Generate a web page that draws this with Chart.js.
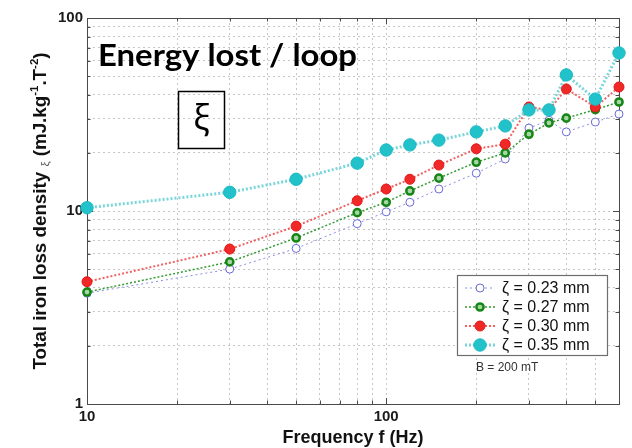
<!DOCTYPE html>
<html>
<head>
<meta charset="utf-8">
<script src="https://cdn.jsdelivr.net/npm/chart.js@4/dist/chart.umd.min.js"></script>
<style>
  html, body { margin: 0; padding: 0; background: #fff; }
  #wrap { width: 632px; height: 448px; }
</style>
</head>
<body>
<div id="wrap"><canvas id="c" width="632" height="448"></canvas></div>
<script>
// ---- data ----
const freqs = [10, 30, 50, 80, 100, 120, 150, 200, 250, 300, 350, 400, 500, 600];
const seriesLabels = ['ζ = 0.23 mm', 'ζ = 0.27 mm', 'ζ = 0.30 mm', 'ζ = 0.35 mm'];
const xi023 = [3.75, 5.0, 6.4, 8.6, 9.9, 11.1, 13.0, 15.7, 18.6, 26.9, 29.5, 25.7, 28.9, 31.8];
const xi027 = [3.8, 5.45, 7.25, 9.8, 11.1, 12.7, 14.8, 17.9, 20.0, 25.0, 28.6, 30.3, 33.5, 36.7];
const xi030 = [4.3, 6.35, 8.35, 11.3, 13.0, 14.6, 17.3, 21.0, 22.2, 34.6, 33.4, 42.9, 34.6, 43.9];
const xi035 = [10.4, 12.5, 14.6, 17.7, 20.7, 22.0, 23.3, 25.7, 27.6, 33.4, 33.4, 50.7, 38.0, 65.9];
const xGridValues = [10, 20, 30, 40, 50, 60, 70, 80, 90, 100, 200, 300, 400, 500, 600];
const yGridValues = [1, 2, 3, 4, 5, 6, 7, 8, 9, 10, 20, 30, 40, 50, 60, 70, 80, 90, 100];
const xTickLabels = [10, 100];
const yTickLabels = [1, 10, 100];
const chartTitle = 'Energy lost / loop';
const boxSymbol = 'ξ';
const xAxisTitle = 'Frequency f (Hz)';
const fieldNote = 'B = 200 mT';

const styles = [
  { line: 'rgba(120,120,225,0.85)', lw: 1, dash: [2, 3], pr: 4, pbw: 1, pbc: '#6a6ad8', pbg: 'rgba(255,255,255,0.9)', order: 4 },
  { line: '#339c33', lw: 1.5, dash: [2, 2], pr: 3.6, pbw: 2.5, pbc: '#178517', pbg: '#a6d8a6', order: 3 },
  { line: '#f06262', lw: 2, dash: [2, 2], pr: 5, pbw: 1, pbc: '#e41515', pbg: '#f02828', order: 2 },
  { line: '#7ad6da', lw: 3, dash: [2, 2], pr: 6.2, pbw: 1, pbc: '#19b9c2', pbg: '#22c2ca', order: 1 }
];
const seriesValues = [xi023, xi027, xi030, xi035];

const datasets = seriesValues.map((vals, i) => ({
  label: seriesLabels[i],
  data: freqs.map((f, k) => ({ x: f, y: vals[k] })),
  borderColor: styles[i].line,
  borderWidth: styles[i].lw,
  borderDash: styles[i].dash,
  pointRadius: styles[i].pr,
  pointBorderWidth: styles[i].pbw,
  pointBorderColor: styles[i].pbc,
  pointBackgroundColor: styles[i].pbg,
  fill: false,
  tension: 0,
  clip: false,
  order: styles[i].order
}));

const SANS = '"Liberation Sans", Arial, sans-serif';

const decor = {
  id: 'decor',
  beforeDatasetsDraw(chart) {
    const ctx = chart.ctx;
    const a = chart.chartArea;
    const xs = chart.scales.x, ys = chart.scales.y;
    ctx.save();
    ctx.strokeStyle = '#4a4a4a';
    ctx.lineWidth = 1;
    ctx.setLineDash([]);
    ctx.strokeRect(Math.round(a.left) + 0.5, Math.round(a.top) + 0.5, Math.round(a.right - a.left), Math.round(a.bottom - a.top));
    ctx.beginPath();
    xGridValues.forEach(v => {
      const px = Math.round(xs.getPixelForValue(v)) + 0.5;
      const len = xTickLabels.includes(v) ? 6 : 3.5;
      ctx.moveTo(px, a.bottom); ctx.lineTo(px, a.bottom - len);
      ctx.moveTo(px, a.top); ctx.lineTo(px, a.top + len);
    });
    yGridValues.forEach(v => {
      const py = Math.round(ys.getPixelForValue(v)) + 0.5;
      const len = yTickLabels.includes(v) ? 6 : 3.5;
      ctx.moveTo(a.left, py); ctx.lineTo(a.left + len, py);
      ctx.moveTo(a.right, py); ctx.lineTo(a.right - len, py);
    });
    ctx.stroke();
    ctx.restore();
  },
  afterDraw(chart) {
    const ctx = chart.ctx;
    const a = chart.chartArea;
    ctx.save();
    // big title
    ctx.fillStyle = '#000';
    ctx.font = 'bold 31px Lato, "Open Sans", sans-serif';
    ctx.textBaseline = 'alphabetic';
    ctx.textAlign = 'left';
    let w = ctx.measureText(chartTitle).width;
    ctx.save();
    ctx.translate(98, 66);
    ctx.scale(259 / w, 1);
    ctx.fillText(chartTitle, 0, 0);
    ctx.restore();

    // xi box
    ctx.lineWidth = 1.5;
    ctx.strokeStyle = '#000';
    ctx.strokeRect(178.5, 91.5, 46, 57);
    ctx.font = '34px "Noto Sans", "Open Sans", sans-serif';
    ctx.textAlign = 'center';
    const m = ctx.measureText(boxSymbol);
    const hTop = m.actualBoundingBoxAscent, hBot = m.actualBoundingBoxDescent;
    ctx.fillText(boxSymbol, 201.5, 120 + (hTop - hBot) / 2);

    // legend
    const lx = 457.5, ly = 275.5, lw = 150, lh = 80;
    ctx.fillStyle = '#fff';
    ctx.fillRect(lx, ly, lw, lh);
    ctx.strokeStyle = '#6e6e6e';
    ctx.lineWidth = 1.2;
    ctx.strokeRect(lx, ly, lw, lh);
    seriesLabels.forEach((lab, i) => {
      const y = 288 + 19 * i;
      const s = styles[i];
      ctx.save();
      ctx.strokeStyle = s.line;
      ctx.lineWidth = s.lw;
      ctx.setLineDash(s.dash);
      ctx.beginPath(); ctx.moveTo(465, y); ctx.lineTo(495, y); ctx.stroke();
      ctx.setLineDash([]);
      ctx.beginPath();
      ctx.arc(480, y, s.pr, 0, Math.PI * 2);
      ctx.fillStyle = s.pbg; ctx.fill();
      ctx.lineWidth = s.pbw; ctx.strokeStyle = s.pbc; ctx.stroke();
      ctx.restore();
      ctx.fillStyle = '#111';
      ctx.font = '16px ' + SANS;
      ctx.textAlign = 'left';
      ctx.textBaseline = 'middle';
      ctx.fillText(lab, 502, y + 1);
    });
    ctx.fillStyle = '#333';
    ctx.font = '12px ' + SANS;
    ctx.textBaseline = 'middle';
    ctx.fillText(fieldNote, 476, 368);

    // x axis title
    ctx.fillStyle = '#111';
    ctx.font = 'bold 18px ' + SANS;
    ctx.textAlign = 'center';
    ctx.textBaseline = 'alphabetic';
    ctx.fillText(xAxisTitle, (a.left + a.right) / 2, 443);

    // y axis title with sub/superscripts
    const segs = [
      { t: 'Total iron loss density ', f: 'bold 18px ' + SANS, dy: 0 },
      { t: 'ξ', f: '11px ' + SANS, dy: 3 },
      { t: ' (mJ.kg', f: 'bold 18px ' + SANS, dy: 0 },
      { t: '-1', f: 'bold 11px ' + SANS, dy: -8 },
      { t: '.T', f: 'bold 18px ' + SANS, dy: 0 },
      { t: '-2', f: 'bold 11px ' + SANS, dy: -8 },
      { t: ')', f: 'bold 18px ' + SANS, dy: 0 }
    ];
    let total = 0;
    segs.forEach(s => { ctx.font = s.f; s.w = ctx.measureText(s.t).width; total += s.w; });
    ctx.save();
    ctx.translate(46, (a.top + a.bottom) / 2);
    ctx.rotate(-Math.PI / 2);
    ctx.scale(317 / total, 1);
    ctx.textAlign = 'left';
    ctx.textBaseline = 'alphabetic';
    let cx = -total / 2;
    segs.forEach(s => {
      ctx.font = s.f;
      ctx.fillStyle = s.t === 'ξ' ? '#555' : '#111';
      ctx.fillText(s.t, cx, s.dy);
      cx += s.w;
    });
    ctx.restore();
    ctx.restore();
  }
};

new Chart(document.getElementById('c'), {
  type: 'line',
  data: { datasets },
  options: {
    responsive: false,
    animation: false,
    layout: { padding: { top: 18, right: 13, left: 0, bottom: 0 } },
    plugins: { legend: { display: false }, tooltip: { enabled: false }, title: { display: false } },
    scales: {
      x: {
        type: 'logarithmic',
        min: 10, max: 600,
        afterBuildTicks: s => { s.ticks = xGridValues.map(v => ({ value: v })); },
        afterFit: s => { s.height = 44; },
        ticks: {
          autoSkip: false, maxRotation: 0, padding: 4,
          color: '#1a1a1a',
          font: { family: SANS, size: 15, weight: 'bold' },
          callback: v => xTickLabels.includes(v) ? String(v) : ''
        },
        grid: { color: '#c6c6c6', lineWidth: 1, drawTicks: false },
        border: { display: true, color: '#4a4a4a', width: 1, dash: [2, 3] }
      },
      y: {
        type: 'logarithmic',
        min: 1, max: 100,
        afterBuildTicks: s => { s.ticks = yGridValues.map(v => ({ value: v })); },
        afterFit: s => { s.width = 87; },
        ticks: {
          autoSkip: false, padding: 4,
          color: '#1a1a1a',
          font: { family: SANS, size: 15, weight: 'bold' },
          callback: v => yTickLabels.includes(v) ? String(v) : ''
        },
        grid: { color: '#c6c6c6', lineWidth: 1, drawTicks: false },
        border: { display: true, color: '#4a4a4a', width: 1, dash: [2, 3] }
      }
    }
  },
  plugins: [decor]
});
</script>
</body>
</html>
